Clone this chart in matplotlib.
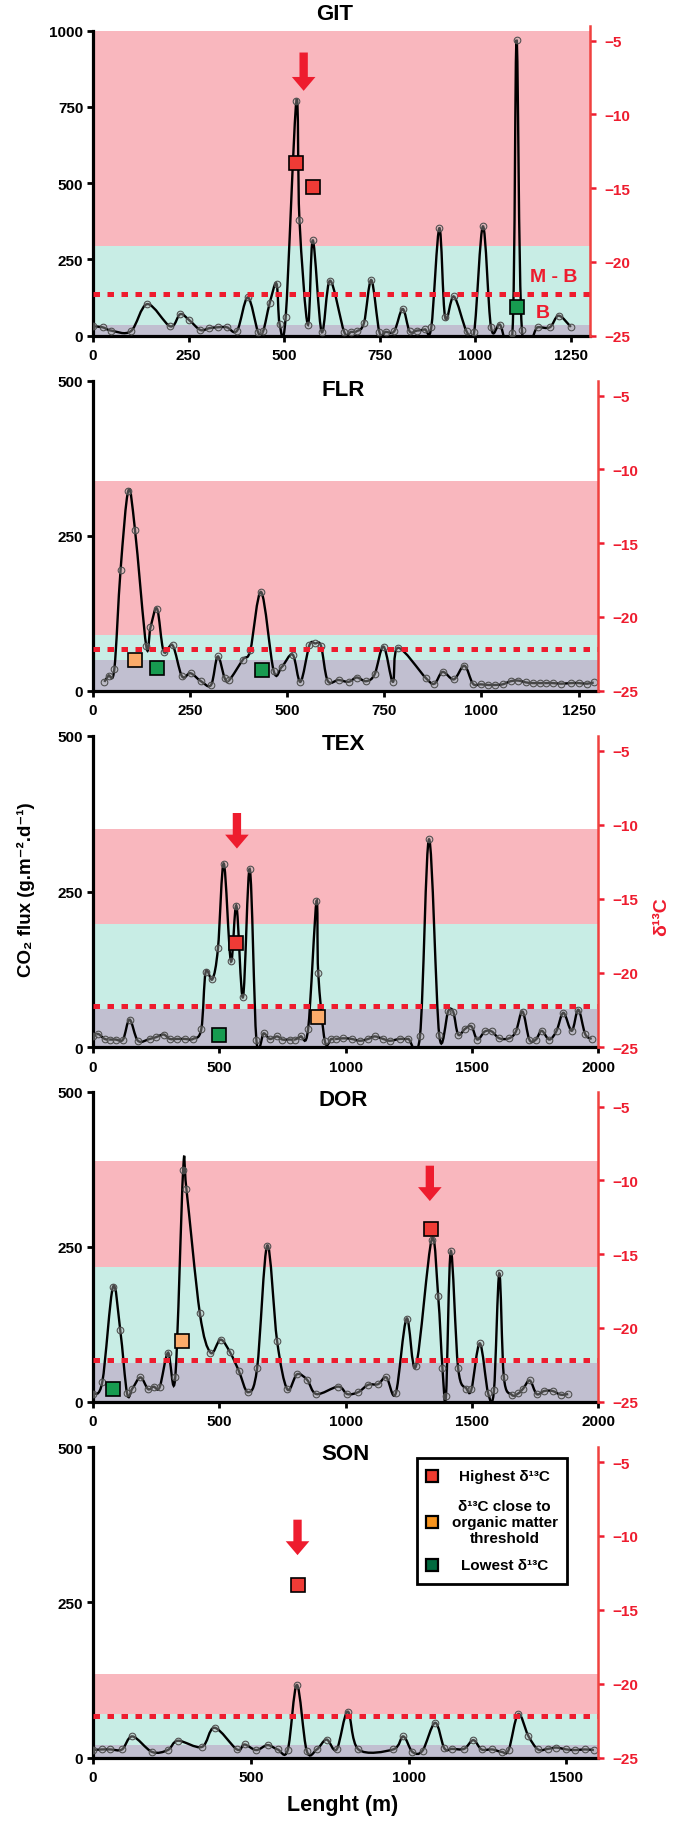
import numpy as np
import matplotlib
matplotlib.use("Agg")
import matplotlib.pyplot as plt
from matplotlib.path import Path
from matplotlib.patches import PathPatch, Rectangle

plt.rcParams['font.family'] = ['Liberation Sans', 'DejaVu Sans']
plt.rcParams['font.weight'] = 'bold'

# ---------------- data ----------------
git_x = [0, 25, 48, 99, 142, 202, 228, 252, 281, 304, 327, 350, 377, 405, 432, 445, 462, 480, 488, 504,
         532, 540, 562, 575, 598, 620, 657, 675, 690, 709, 728, 749, 766, 788, 810, 828, 847, 868, 885, 906,
         921, 944, 977, 997, 1020, 1041, 1064, 1097, 1108, 1122, 1163, 1195, 1218, 1250]
git_y = [30, 27, 16, 14, 103, 30, 70, 50, 18, 24, 27, 27, 16, 125, 10, 14, 105, 170, 38, 60,
         770, 380, 35, 312, 12, 180, 12, 12, 14, 42, 182, 12, 12, 14, 87, 14, 16, 20, 28, 352,
         60, 128, 14, 12, 358, 28, 36, 8, 970, 18, 27, 27, 65, 28]

flr_x = [29, 40, 55, 71, 91, 108, 137, 148, 165, 182, 205, 229, 251, 278, 304, 321, 339, 351, 386, 405,
         433, 465, 486, 514, 534, 557, 572, 587, 604, 632, 658, 679, 703, 725, 748, 772, 785, 857, 879, 900,
         929, 956, 978, 998, 1017, 1036, 1055, 1075, 1095, 1115, 1132, 1150, 1167, 1184, 1205, 1231, 1250, 1272, 1289]
flr_y = [14, 24, 35, 195, 323, 260, 72, 102, 132, 63, 73, 23, 28, 15, 9, 55, 20, 17, 50, 65,
         159, 32, 38, 58, 14, 73, 76, 72, 16, 17, 14, 21, 15, 26, 71, 14, 69, 20, 11, 30,
         18, 40, 11, 10, 9, 9, 10, 15, 16, 13, 12, 12, 12, 12, 11, 12, 12, 11, 13]

tex_x = [0, 20, 46, 69, 90, 119, 145, 178, 225, 251, 280, 304, 333, 363, 396, 429, 446, 473, 495, 518,
         546, 568, 594, 621, 647, 676, 700, 729, 750, 779, 799, 822, 852, 885, 892, 918, 944, 964, 991, 1024,
         1057, 1090, 1116, 1149, 1176, 1215, 1248, 1295, 1331, 1371, 1407, 1427, 1446, 1473, 1499, 1522, 1552, 1579, 1609, 1648,
         1675, 1701, 1728, 1754, 1777, 1807, 1836, 1863, 1896, 1922, 1949, 1975]
tex_y = [17, 21, 13, 12, 12, 12, 44, 10, 13, 16, 20, 13, 13, 13, 13, 29, 120, 109, 159, 295,
         138, 227, 80, 286, 12, 22, 13, 17, 12, 12, 12, 17, 29, 234, 119, 10, 13, 13, 14, 13,
         10, 13, 17, 13, 10, 13, 13, 18, 334, 20, 58, 56, 20, 29, 33, 12, 25, 25, 14, 14,
         25, 57, 12, 12, 26, 12, 26, 55, 26, 60, 21, 13]

dor_x = [0, 37, 79, 108, 135, 156, 188, 218, 240, 264, 297, 326, 357, 370, 423, 465, 505, 542, 577, 614,
         650, 690, 729, 769, 808, 848, 885, 971, 1007, 1050, 1090, 1129, 1162, 1199, 1242, 1279, 1341, 1367, 1384, 1398,
         1417, 1446, 1479, 1499, 1532, 1565, 1588, 1609, 1627, 1658, 1684, 1704, 1730, 1757, 1787, 1820, 1852, 1882]
dor_y = [12, 32, 185, 115, 13, 21, 39, 20, 24, 23, 79, 40, 374, 343, 143, 79, 100, 80, 50, 15,
         54, 252, 98, 20, 44, 35, 12, 24, 12, 15, 27, 28, 39, 13, 134, 57, 261, 170, 54, 9,
         243, 54, 21, 20, 94, 13, 18, 207, 40, 11, 13, 21, 34, 12, 17, 17, 11, 12]

son_x = [0, 28, 55, 92, 125, 187, 237, 269, 345, 385, 456, 480, 517, 553, 585, 617, 646, 677, 709, 740,
         772, 807, 841, 951, 983, 1012, 1044, 1084, 1113, 1138, 1176, 1205, 1231, 1265, 1295, 1317, 1347, 1379, 1410, 1442,
         1468, 1500, 1528, 1558, 1587]
son_y = [12, 13, 13, 13, 34, 9, 12, 27, 17, 48, 13, 21, 12, 20, 13, 12, 117, 11, 13, 29,
         13, 74, 13, 13, 34, 9, 11, 56, 15, 14, 14, 28, 13, 13, 9, 12, 70, 35, 13, 14,
         16, 13, 12, 13, 12]

# delta13C samples (right axis)
git_sq_x = [532, 575, 1108]
git_sq_d = [-13.3, -14.9, -23.1]
git_sq_k = ['high', 'high', 'low']
flr_sq_x = [107, 164, 435]
flr_sq_d = [-22.9, -23.45, -23.6]
flr_sq_k = ['close', 'low', 'low']
tex_sq_x = [568, 499, 892]
tex_sq_d = [-18.0, -24.2, -23.0]
tex_sq_k = ['high', 'low', 'close']
dor_sq_x = [79, 354, 1338]
dor_sq_d = [-24.15, -20.9, -13.3]
dor_sq_k = ['low', 'close', 'high']
son_sq_x = [648]
son_sq_d = [-13.3]
son_sq_k = ['high']

# CO2 flux population bands (B, M-B, upper)
git_bands = [35, 295, 1000]
flr_bands = [49, 90, 339]
tex_bands = [61, 197, 351]
dor_bands = [62, 218, 389]
son_bands = [20, 70, 135]

d13c_threshold = -22.2

titles = ['GIT', 'FLR', 'TEX', 'DOR', 'SON']

# ---------------- styling ----------------
PINK = '#f9b7be'
CYAN = '#c8ede5'
GRAY = '#c1bfd0'
RED = '#ee1c2e'
RSPINE = '#f0413f'
SQ_COL = {'high': '#ef3b36', 'close': '#fbab6a', 'low': '#179b50'}
LEG_COL = {'high': '#ee3b2f', 'close': '#f7941e', 'low': '#00693e'}

W, H = 682, 1824
fig = plt.figure(figsize=(W / 100, H / 100), dpi=100)


def smooth_path(x, y):
    p = np.column_stack([x, y]).astype(float)
    n = len(p)
    verts = [p[0]]
    codes = [Path.MOVETO]
    for i in range(n - 1):
        p0 = p[i - 1] if i > 0 else p[i]
        p1 = p[i]
        p2 = p[i + 1]
        p3 = p[i + 2] if i + 2 < n else p[i + 1]
        verts += [p1 + (p2 - p0) / 6.0, p2 - (p3 - p1) / 6.0, p2]
        codes += [Path.CURVE4] * 3
    return Path(verts, codes)


def px_rect(l, r, t, b):
    return [l / W, 1 - b / H, (r - l) / W, (b - t) / H]


panels = [
    dict(x=git_x, y=git_y, sx=git_sq_x, sd=git_sq_d, sk=git_sq_k, bands=git_bands,
         rect=px_rect(93, 590, 27, 336.5), xlim=(0, 1300), xt=[0, 250, 500, 750, 1000, 1250],
         ylim=(0, 1015), yt=[0, 250, 500, 750, 1000], arrow=(551, -5.8, -8.4), title=(335, 15)),
    dict(x=flr_x, y=flr_y, sx=flr_sq_x, sd=flr_sq_d, sk=flr_sq_k, bands=flr_bands,
         rect=px_rect(93, 598, 382, 691.5), xlim=(0, 1300), xt=[0, 250, 500, 750, 1000, 1250],
         ylim=(0, 500), yt=[0, 250, 500], arrow=None, title=(343, 390)),
    dict(x=tex_x, y=tex_y, sx=tex_sq_x, sd=tex_sq_d, sk=tex_sq_k, bands=tex_bands,
         rect=px_rect(93, 598, 737, 1048), xlim=(0, 2000), xt=[0, 500, 1000, 1500, 2000],
         ylim=(0, 500), yt=[0, 250, 500], arrow=(570, -9.2, -11.6), title=(343, 745)),
    dict(x=dor_x, y=dor_y, sx=dor_sq_x, sd=dor_sq_d, sk=dor_sq_k, bands=dor_bands,
         rect=px_rect(93, 598, 1093, 1402.5), xlim=(0, 2000), xt=[0, 500, 1000, 1500, 2000],
         ylim=(0, 500), yt=[0, 250, 500], arrow=(1334, -9.0, -11.4), title=(343, 1101)),
    dict(x=son_x, y=son_y, sx=son_sq_x, sd=son_sq_d, sk=son_sq_k, bands=son_bands,
         rect=px_rect(93, 598, 1448.3, 1758.5), xlim=(0, 1600), xt=[0, 500, 1000, 1500],
         ylim=(0, 500), yt=[0, 250, 500], arrow=(648, -8.9, -11.3), title=(345, 1455)),
]

for name, P in zip(titles, panels):
    ax = fig.add_axes(P['rect'])
    ax.set_xlim(*P['xlim'])
    ax.set_ylim(*P['ylim'])
    b = P['bands']
    ax.axhspan(0, b[0], color=GRAY, lw=0, zorder=0)
    ax.axhspan(b[0], b[1], color=CYAN, lw=0, zorder=0)
    ax.axhspan(b[1], b[2], color=PINK, lw=0, zorder=0)

    ax.add_patch(PathPatch(smooth_path(P['x'], P['y']), fill=False, ec='black', lw=1.7, zorder=3,
                           clip_on=True))
    ax.plot(P['x'], P['y'], 'o', ms=4.8, mfc=(0.7, 0.7, 0.7, 0.4), mec=(0.3, 0.3, 0.3), mew=0.75,
            zorder=4)

    ax.set_xticks(P['xt'])
    ax.set_yticks(P['yt'])
    for s in ['top', 'right']:
        ax.spines[s].set_visible(False)
    ax.spines['left'].set_linewidth(2.3)
    ax.spines['bottom'].set_linewidth(2.3)
    ax.spines['left'].set_bounds(0, P['yt'][-1])
    ax.tick_params(axis='both', length=4, width=2, labelsize=11, direction='out')
    ax.tick_params(axis='x', pad=5)
    ax.tick_params(axis='y', pad=3)
    for lab in ax.get_xticklabels() + ax.get_yticklabels():
        lab.set_fontweight('bold')

    ax2 = ax.twinx()
    ax2.set_ylim(-25, -4)
    ax2.set_yticks([-25, -20, -15, -10, -5])
    for s in ['top', 'left', 'bottom']:
        ax2.spines[s].set_visible(False)
    ax2.spines['right'].set_color(RSPINE)
    ax2.spines['right'].set_linewidth(1.8)
    ax2.tick_params(axis='y', colors=RED, length=4, width=1.8, labelsize=11, pad=6)
    for lab in ax2.get_yticklabels():
        lab.set_fontweight('bold')
        lab.set_color(RED)

    ax2.axhline(d13c_threshold, color=RED, lw=3.6, ls=(0, (1.3, 1.5)), dash_capstyle='butt', zorder=2)

    for sx, sd, sk in zip(P['sx'], P['sd'], P['sk']):
        ax2.plot([sx], [sd], 's', ms=9.5, mfc=SQ_COL[sk], mec='black', mew=1.2, zorder=6)

    if P['arrow'] is not None:
        axx, a0, a1 = P['arrow']
        ax2.annotate('', xy=(axx, a1), xytext=(axx, a0),
                     arrowprops=dict(facecolor=RED, edgecolor='none', width=6, headwidth=17,
                                     headlength=10, shrink=0.0))

    tx, ty = P['title']
    fig.text(tx / W, 1 - ty / H, name, ha='center', va='center', fontsize=16, fontweight='bold')

    if name == 'GIT':
        ax.text(0.926, 0.19, 'M - B', transform=ax.transAxes, ha='center', va='center',
                color=RED, fontsize=14, fontweight='bold', zorder=7)
        ax.text(0.905, 0.075, 'B', transform=ax.transAxes, ha='center', va='center',
                color=RED, fontsize=14, fontweight='bold', zorder=7)

    if name == 'SON':
        box = Rectangle((0.6406, 0.5593), 0.298, 0.4062, transform=ax2.transAxes, fill=True,
                        fc='white', ec='black', lw=2.0, zorder=8)
        ax2.add_patch(box)
        items = [('high', 0.9075, 'Highest δ¹³C'),
                 ('close', 0.759, 'δ¹³C close to\norganic matter\nthreshold'),
                 ('low', 0.619, 'Lowest δ¹³C')]
        for k, yy, txt in items:
            ax2.plot([0.671], [yy], 's', ms=9, mfc=LEG_COL[k], mec='black', mew=1.6,
                     transform=ax2.transAxes, zorder=9, clip_on=False)
            ax2.text(0.815, yy, txt, transform=ax2.transAxes, ha='center', va='center',
                     multialignment='center', fontsize=11, fontweight='bold', zorder=9,
                     linespacing=1.2)

fig.text(26 / W, 1 - 890 / H, 'CO₂ flux (g.m⁻².d⁻¹)', rotation=90, ha='center', va='center',
         fontsize=13.5, fontweight='bold')
fig.text(662 / W, 1 - 917 / H, 'δ¹³C', rotation=90, ha='center', va='center',
         fontsize=14, fontweight='bold', color=RED)
fig.text(343 / W, 1 - 1806 / H, 'Lenght (m)', ha='center', va='center', fontsize=15.5,
         fontweight='bold')

fig.savefig('out.png', dpi=100)
